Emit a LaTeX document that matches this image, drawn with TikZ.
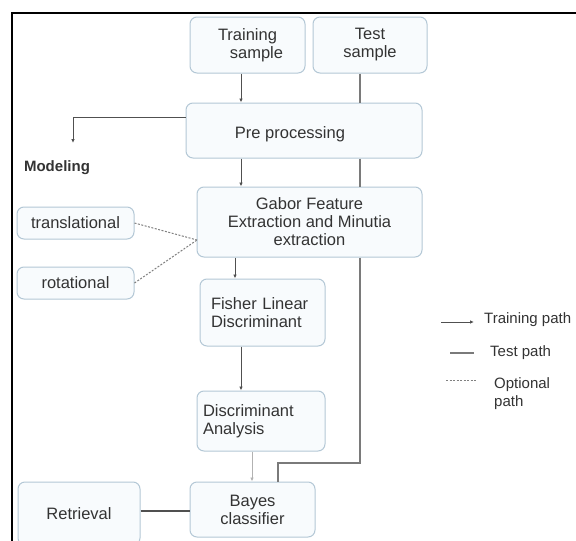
\documentclass[tikz,border=0pt]{standalone}
\usepackage{fontspec}
\setmainfont{Liberation Sans}
\usetikzlibrary{arrows.meta,calc}
\definecolor{boxline}{HTML}{B4C8D6}
\definecolor{boxfill}{HTML}{F8FBFD}
\definecolor{txt}{HTML}{333333}
\definecolor{ln}{HTML}{505050}
\definecolor{tln}{HTML}{7A7A7A}
\tikzset{
  box/.style={draw=boxline, fill=boxfill, rounded corners=7pt, line width=1pt,
    text=txt, font=\fontsize{16.5}{18}\selectfont, align=center, inner sep=0pt},
  trainarrow/.style={draw=ln, line width=1pt, -{Latex[length=4pt,width=3.5pt]}},
  lightarrow/.style={draw=gray!60, line width=1pt, -{Latex[length=4pt,width=3.5pt]}},
  testline/.style={draw=tln, line width=1.2pt},
  optline/.style={draw=gray, line width=1pt, dash pattern=on 2pt off 1.5pt},
  legtext/.style={text=txt, font=\fontsize{15}{18}\selectfont, anchor=west, inner sep=0pt, align=left},
  frame/.style={draw=black, line width=2.6pt},
}
\begin{document}
\begin{tikzpicture}[x=1pt,y=-1pt]
\useasboundingbox (0,0) rectangle (576,541);
\clip (0,0) rectangle (576,541);
\fill[white] (0,0) rectangle (576,541);
% frame
\coordinate (f1) at (12,541);
\coordinate (f2) at (12,13);
\coordinate (f3) at (580,13);
\draw[frame] (f1) -- (f2) -- (f3);
% boxes
\node[box, minimum width=115, minimum height=56] (train) at (247.5,45) {Training\\\hspace*{18pt}sample};
\node[box, minimum width=114, minimum height=56] (test) at (370,45) {Test\\sample};
\node[box, minimum width=236, minimum height=55] (pre) at (304,130.5) {};
\node[text=txt, font=\fontsize{16.5}{18}\selectfont, inner sep=0pt] (pretext) at (290,134) {Pre processing};
\node[box, minimum width=225, minimum height=70] (gabor) at (309.5,222) {Gabor Feature\\Extraction and Minutia\\extraction};
\node[box, minimum width=117, minimum height=32] (trans) at (75.5,223) {translational};
\node[box, minimum width=117, minimum height=32] (rot) at (75.5,283) {rotational};
\node[box, minimum width=125, minimum height=67, text width=103, align=left] (fisher) at (262.5,312.5) {Fisher Linear\\Discriminant};
\node[box, minimum width=128, minimum height=60, text width=116, align=left] (disc) at (261,421) {Discriminant\\Analysis};
\node[box, minimum width=125, minimum height=55] (bayes) at (252.5,509.5) {Bayes\\classifier};
\node[box, minimum width=122, minimum height=63] (retr) at (79,513.5) {Retrieval};
\node[text=txt, font=\bfseries\fontsize{15}{18}\selectfont, inner sep=0pt] (mod) at (57,168) {Modeling};
% helper coordinates
\coordinate (xa) at (241,0);
\coordinate (xg) at (235,0);
\coordinate (xd) at (252,0);
\coordinate (xt) at (360,0);
\coordinate (tc) at (360,463);
\coordinate (tb) at (278,463);
\coordinate (mc) at (73,117);
\coordinate (mend) at (73,143);
\coordinate (gm) at (197,240);
\coordinate (rl) at (0,511);
% training path
\draw[trainarrow] (train.south -| xa) -- (pre.north -| xa);
\draw[trainarrow] (pre.south -| xa) -- (gabor.north -| xa);
\draw[trainarrow] (gabor.south -| xg) -- (fisher.north -| xg);
\draw[trainarrow] (fisher.south -| xa) -- (disc.north -| xa);
\draw[lightarrow] (disc.south -| xd) -- (bayes.north -| xd);
\draw[trainarrow] (pre.west |- mc) -- (mc) -- (mend);
% test path
\draw[testline] (test.south -| xt) -- (pre.north -| xt);
\draw[testline] (pre.south -| xt) -- (gabor.north -| xt);
\draw[testline] (gabor.south -| xt) -- (tc) -- (tb) -- (bayes.north -| tb);
% optional
\draw[optline] (trans.east) -- (gm);
\draw[optline] (rot.east) -- (gm);
% retrieval
\draw[draw=ln, line width=1.5pt] (retr.east |- rl) -- (bayes.west |- rl);
% legend
\coordinate (l1a) at (441,322);
\coordinate (l1b) at (474,322);
\coordinate (l2a) at (450,353);
\coordinate (l2b) at (474,353);
\coordinate (l3a) at (446,380);
\coordinate (l3b) at (476,380);
\draw[trainarrow] (l1a) -- (l1b);
\draw[testline] (l2a) -- (l2b);
\draw[optline] (l3a) -- (l3b);
\node[legtext] (lt1) at (484,320) {Training path};
\node[legtext] (lt2) at (490,353) {Test path};
\node[legtext] (lt3) at (494,394) {Optional\\path};
\end{tikzpicture}
\end{document}
